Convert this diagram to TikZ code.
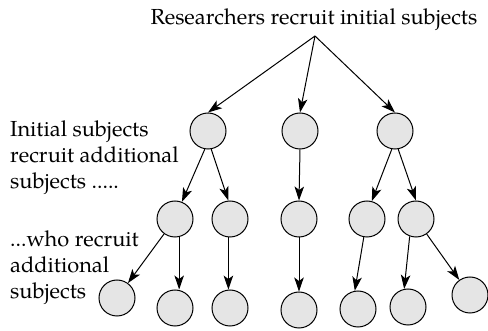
\documentclass[tikz,border=0pt]{standalone}
\usepackage{fontspec}
\setmainfont{TeX Gyre Pagella}
\usetikzlibrary{arrows.meta}
\begin{document}
\begin{tikzpicture}[x=1pt,y=-1pt,
  subj/.style={circle,draw,fill=black!10,line width=1pt,minimum size=36pt,inner sep=0pt},
  arr/.style={-{Stealth[length=14pt,width=9.5pt,inset=3.5pt]},line width=1pt},
  lbl/.style={font=\fontsize{21.8}{26}\selectfont,align=left,inner sep=0pt}]
\useasboundingbox (0,0) rectangle (488,331);
\node[lbl,anchor=base] (top) at (314,25) {Researchers recruit initial subjects};
\coordinate (apex) at (315,36);
\node[lbl,anchor=base west] (t1) at (10,189) {Initial subjects\\recruit additional\\subjects .....};
\node[lbl,anchor=base west] (t2) at (10,299) {...who recruit\\additional\\subjects};
% level 1
\node[subj] (a1) at (208,131) {};
\node[subj] (a2) at (300,131) {};
\node[subj] (a3) at (395,131) {};
% level 2
\node[subj] (b1) at (175,219) {};
\node[subj] (b2) at (230,219) {};
\node[subj] (b3) at (299,219) {};
\node[subj] (b4) at (367,219) {};
\node[subj] (b5) at (416,219) {};
% level 3
\node[subj] (c1) at (117,298) {};
\node[subj] (c2) at (175,308) {};
\node[subj] (c3) at (230,308) {};
\node[subj] (c4) at (299,310) {};
\node[subj] (c5) at (358,309) {};
\node[subj] (c6) at (408,307) {};
\node[subj] (c7) at (470,295) {};
\draw[arr] (apex) -- (a1.north);
\draw[arr] (apex) -- (a2.north);
\draw[arr] (apex) -- (a3.north);
\draw[arr] (a1.-100) -- (b1.68);
\draw[arr] (a1.-80) -- (b2.95);
\draw[arr] (a2.south) -- (b3.north);
\draw[arr] (a3.-100) -- (b4.75);
\draw[arr] (a3.-80) -- (b5.north);
\draw[arr] (b1) -- (c1);
\draw[arr] (b1.-77) -- (b1.-77 |- c2.north);
\draw[arr] (b2.-95) -- (c3.95);
\draw[arr] (b3.south) -- (c4.north);
\draw[arr] (b4.-100) -- (c5.100);
\draw[arr] (b5.-110) -- (c6.102);
\draw[arr] (b5) -- (c7);
\end{tikzpicture}
\end{document}
